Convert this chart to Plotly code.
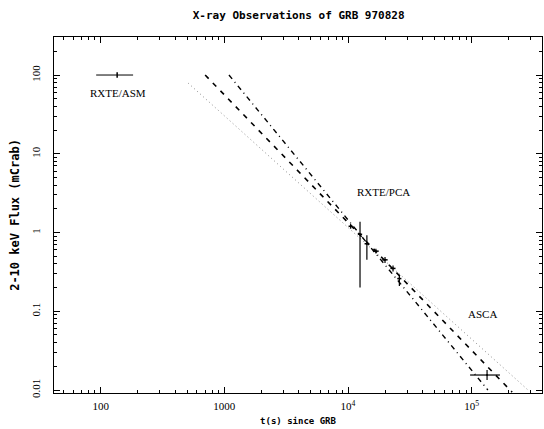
import math
import plotly.graph_objects as go

# ---------------- data ----------------
asm_t = [136]
asm_f = [100]
asm_t_plus = [47]
asm_t_minus = [44]

pca_t = [1.05e4, 1.25e4, 1.42e4, 1.68e4, 1.99e4, 2.31e4, 2.6e4]
pca_f = [1.2, 0.95, 0.72, 0.58, 0.45, 0.35, 0.26]
pca_f_plus = [0.08, 0.42, 0.20, 0.04, 0.04, 0.03, 0.03]
pca_f_minus = [0.08, 0.75, 0.27, 0.04, 0.04, 0.03, 0.05]
pca_t_err = [400, 500, 600, 900, 1000, 1100, 1000]

asca_t = [1.33e5]
asca_f = [0.0155]
asca_t_plus = [0.36e5]
asca_t_minus = [0.36e5]
asca_f_plus = [0.0025]
asca_f_minus = [0.0021]

fit1_t = [700, 2.12e5]
fit1_f = [100, 0.0094]
fit2_t = [1090, 1.35e5]
fit2_f = [100, 0.01]
fit3_t = [510, 2.85e5]
fit3_f = [79, 0.01]

x_tickvals = [100, 1000, 1e4, 1e5]
x_ticktext = ["100", "1000", "10<sup>4</sup>", "10<sup>5</sup>"]
y_tickvals = [0.01, 0.1, 1, 10, 100]
y_ticktext = ["0.01", "0.1", "1", "10", "100"]

labels = ["RXTE/ASM", "RXTE/PCA", "ASCA"]
label_t = [137, 1.94e4, 1.23e5]
label_f = [60, 3.27, 0.092]

title_text = "X-ray Observations of GRB 970828"
xtitle = "t(s) since GRB"
ytitle = "2-10 keV Flux (mCrab)"

# ---------------- figure ----------------
fig = go.Figure()

fig.add_trace(go.Scatter(x=fit3_t, y=fit3_f, mode="lines",
                         line=dict(color="#8a8a8a", width=1, dash="1px,3px"),
                         showlegend=False))
fig.add_trace(go.Scatter(x=fit1_t, y=fit1_f, mode="lines",
                         line=dict(color="black", width=1.6, dash="5px,6px"),
                         showlegend=False))
fig.add_trace(go.Scatter(x=fit2_t, y=fit2_f, mode="lines",
                         line=dict(color="black", width=1.4, dash="5px,4px,1px,4px"),
                         showlegend=False))

fig.add_trace(go.Scatter(
    x=asm_t, y=asm_f, mode="markers",
    marker=dict(symbol="line-ns", size=4, color="black", line=dict(width=1.5, color="black")),
    error_x=dict(type="data", array=asm_t_plus, arrayminus=asm_t_minus,
                 color="black", thickness=1, width=0),
    showlegend=False))

fig.add_trace(go.Scatter(
    x=pca_t, y=pca_f, mode="markers",
    marker=dict(symbol="circle", size=2, color="black"),
    error_x=dict(type="data", array=pca_t_err, color="black", thickness=1.5, width=0),
    error_y=dict(type="data", array=pca_f_plus, arrayminus=pca_f_minus,
                 color="black", thickness=1.2, width=0),
    showlegend=False))

fig.add_trace(go.Scatter(
    x=asca_t, y=asca_f, mode="markers",
    marker=dict(symbol="circle", size=2, color="black"),
    error_x=dict(type="data", array=asca_t_plus, arrayminus=asca_t_minus,
                 color="black", thickness=1.2, width=0),
    error_y=dict(type="data", array=asca_f_plus, arrayminus=asca_f_minus,
                 color="black", thickness=1.2, width=0),
    showlegend=False))

for txt, t, f in zip(labels, label_t, label_f):
    fig.add_annotation(x=math.log10(t), y=math.log10(f), text=txt, showarrow=False,
                       xref="x", yref="y",
                       font=dict(family="Liberation Serif", size=11, color="black"))

def minor_vals(lo, hi):
    vals = []
    for d in range(lo, hi):
        for m in range(2, 10):
            vals.append(m * 10 ** d)
    return vals

axis_common = dict(
    showline=True, linecolor="black", linewidth=1.3, mirror="ticks",
    ticks="inside", ticklen=6, tickwidth=1, tickcolor="black",
    showgrid=False, zeroline=False, automargin=False,
    tickfont=dict(family="Liberation Serif", size=11, color="black"),
)

fig.update_xaxes(type="log", range=[1.623, 5.568],
                 tickvals=x_tickvals, ticktext=x_ticktext,
                 minor=dict(tickvals=minor_vals(1, 6), ticks="inside", ticklen=3,
                            tickcolor="black", showgrid=False),
                 title=dict(text=xtitle, standoff=6,
                            font=dict(family="DejaVu Sans Mono", size=9, color="black",
                                      weight="bold")),
                 ticklabelstandoff=3,
                 **axis_common)
fig.update_yaxes(type="log", range=[-2.038, 2.483],
                 tickvals=y_tickvals, ticktext=y_ticktext, tickangle=-90,
                 minor=dict(tickvals=minor_vals(-3, 3), ticks="inside", ticklen=3,
                            tickcolor="black", showgrid=False),
                 title=dict(text=ytitle, standoff=8,
                            font=dict(family="DejaVu Sans Mono", size=12, color="black",
                                      weight="bold")),
                 ticklabelstandoff=8,
                 **axis_common)

fig.update_layout(
    width=544, height=429,
    margin=dict(l=54, r=2, t=37, b=36),
    paper_bgcolor="white", plot_bgcolor="white",
    title=dict(text=title_text, x=0.549, xanchor="center",
               y=1 - 15 / 429, yanchor="middle", yref="container",
               font=dict(family="DejaVu Sans Mono", size=11, color="black",
                         weight="bold")),
)

fig.write_html("out.html",
               config={"displayModeBar": False},
               post_script="document.body.style.margin='0';document.body.style.overflow='hidden';")
